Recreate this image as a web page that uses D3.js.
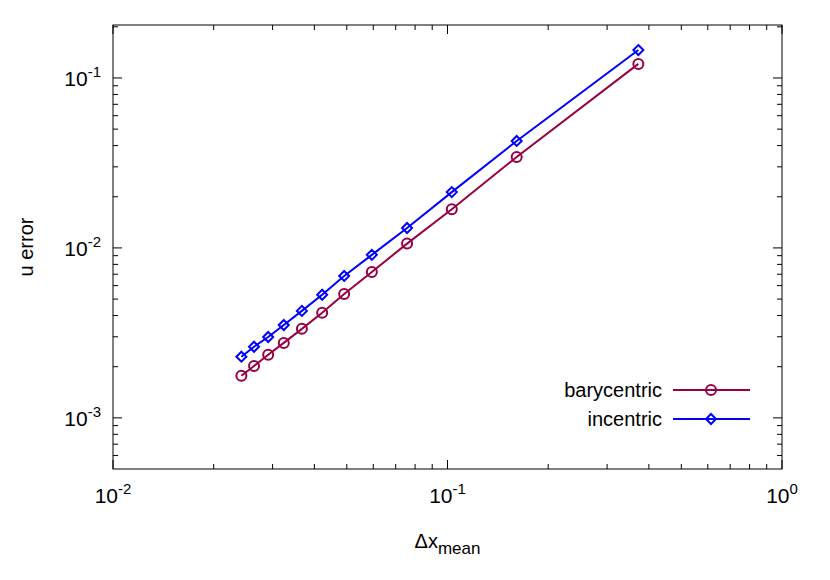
<!DOCTYPE html>
<html><head><meta charset="utf-8">
<script src="https://cdn.jsdelivr.net/npm/d3@7"></script>
<style>body{margin:0;background:#fff}text{font-family:"Liberation Sans",Arial,sans-serif}</style>
</head><body><div id="wrapper"></div>
<script>
const dx = [0.0242, 0.0264, 0.0291, 0.0324, 0.0367, 0.0422, 0.0491, 0.0594, 0.0757, 0.103, 0.161, 0.372]
const bary = [1.77e-3, 2.02e-3, 2.35e-3, 2.76e-3, 3.34e-3, 4.15e-3, 5.36e-3, 7.22e-3, 1.06e-2, 1.69e-2, 3.43e-2, 0.121]
const inc = [2.29e-3, 2.62e-3, 2.99e-3, 3.52e-3, 4.26e-3, 5.30e-3, 6.84e-3, 9.1e-3, 1.31e-2, 2.13e-2, 4.26e-2, 0.146]
const xTicks = [-2, -1, 0]
const yTicks = [-3, -2, -1]

const W = 830, H = 580
const m = {left: 113, right: 48, top: 25, bottom: 111}
const svg = d3.select("#wrapper").append("svg").attr("width", W).attr("height", H)

const x = d3.scaleLog().domain([0.01, 1]).range([m.left, W - m.right])
const y = d3.scaleLog().domain([5e-4, 0.205]).range([H - m.bottom, m.top])
const x0 = m.left, x1 = W - m.right, y0 = H - m.bottom, y1 = m.top

// ticks (inward, mirrored)
const tg = svg.append("g").attr("stroke", "#000").attr("stroke-width", 1)
const xMinor = [], yMinor = []
for (let e = -2; e < 0; e++) for (let k = 2; k < 10; k++) xMinor.push(k * 10 ** e)
for (let e = -4; e < 0; e++) for (let k = 2; k < 10; k++) { const v = k * 10 ** e; if (v > 5e-4 && v < 0.205) yMinor.push(v) }
xTicks.forEach(e => { const px = x(10 ** e); tg.append("line").attr("x1", px).attr("x2", px).attr("y1", y0).attr("y2", y0 - 9); tg.append("line").attr("x1", px).attr("x2", px).attr("y1", y1).attr("y2", y1 + 9) })
xMinor.forEach(v => { const px = x(v); tg.append("line").attr("x1", px).attr("x2", px).attr("y1", y0).attr("y2", y0 - 5); tg.append("line").attr("x1", px).attr("x2", px).attr("y1", y1).attr("y2", y1 + 5) })
yTicks.forEach(e => { const py = y(10 ** e); tg.append("line").attr("x1", x0).attr("x2", x0 + 9).attr("y1", py).attr("y2", py); tg.append("line").attr("x1", x1).attr("x2", x1 - 9).attr("y1", py).attr("y2", py) })
yMinor.forEach(v => { const py = y(v); tg.append("line").attr("x1", x0).attr("x2", x0 + 5).attr("y1", py).attr("y2", py); tg.append("line").attr("x1", x1).attr("x2", x1 - 5).attr("y1", py).attr("y2", py) })

svg.append("rect").attr("x", x0).attr("y", y1).attr("width", x1 - x0).attr("height", y0 - y1)
  .attr("fill", "none").attr("stroke", "#000").attr("stroke-width", 1)

xTicks.forEach(e => {
  const t = svg.append("text").attr("x", x(10 ** e)).attr("y", y0 + 34).attr("text-anchor", "middle").attr("font-size", 21)
  t.append("tspan").text("10")
  t.append("tspan").attr("dy", -9).attr("font-size", 15).text(String(e))
})
yTicks.forEach(e => {
  const t = svg.append("text").attr("x", x0 - 12).attr("y", y(10 ** e) + 8).attr("text-anchor", "end").attr("font-size", 21)
  t.append("tspan").text("10")
  t.append("tspan").attr("dy", -9).attr("font-size", 15).text(String(e))
})

const xl = svg.append("text").attr("x", (x0 + x1) / 2).attr("y", 548).attr("text-anchor", "middle").attr("font-size", 20)
xl.append("tspan").text("Δx")
xl.append("tspan").attr("dy", 6).attr("font-size", 17).text("mean")
svg.append("text").attr("transform", `translate(33,${(y0 + y1) / 2}) rotate(-90)`).attr("text-anchor", "middle")
  .attr("font-size", 20).text("u error")

const line = d3.line().x(d => x(d[0])).y(d => y(d[1]))
const series = [
  {name: "barycentric", vals: bary, color: "#990044", sym: "circle"},
  {name: "incentric", vals: inc, color: "#0000ff", sym: "diamond"}
]
function mark(g, px, py, s, color) {
  if (s === "circle") g.append("circle").attr("cx", px).attr("cy", py).attr("r", 5).attr("fill", "none").attr("stroke", color).attr("stroke-width", 2)
  else g.append("path").attr("d", `M${px},${py - 5}L${px + 5},${py}L${px},${py + 5}L${px - 5},${py}Z`).attr("fill", "none").attr("stroke", color).attr("stroke-width", 2)
}
series.forEach((s, i) => {
  const pts = dx.map((v, j) => [v, s.vals[j]])
  svg.append("path").datum(pts).attr("d", line).attr("fill", "none").attr("stroke", s.color).attr("stroke-width", 2)
  const g = svg.append("g")
  pts.forEach(p => mark(g, x(p[0]), y(p[1]), s.sym, s.color))
  const ly = 390 + i * 29
  svg.append("text").attr("x", 662).attr("y", ly + 7).attr("text-anchor", "end").attr("font-size", 20).text(s.name)
  svg.append("line").attr("x1", 673).attr("x2", 750).attr("y1", ly).attr("y2", ly).attr("stroke", s.color).attr("stroke-width", 2)
  mark(svg, 711, ly, s.sym, s.color)
})
</script></body></html>
